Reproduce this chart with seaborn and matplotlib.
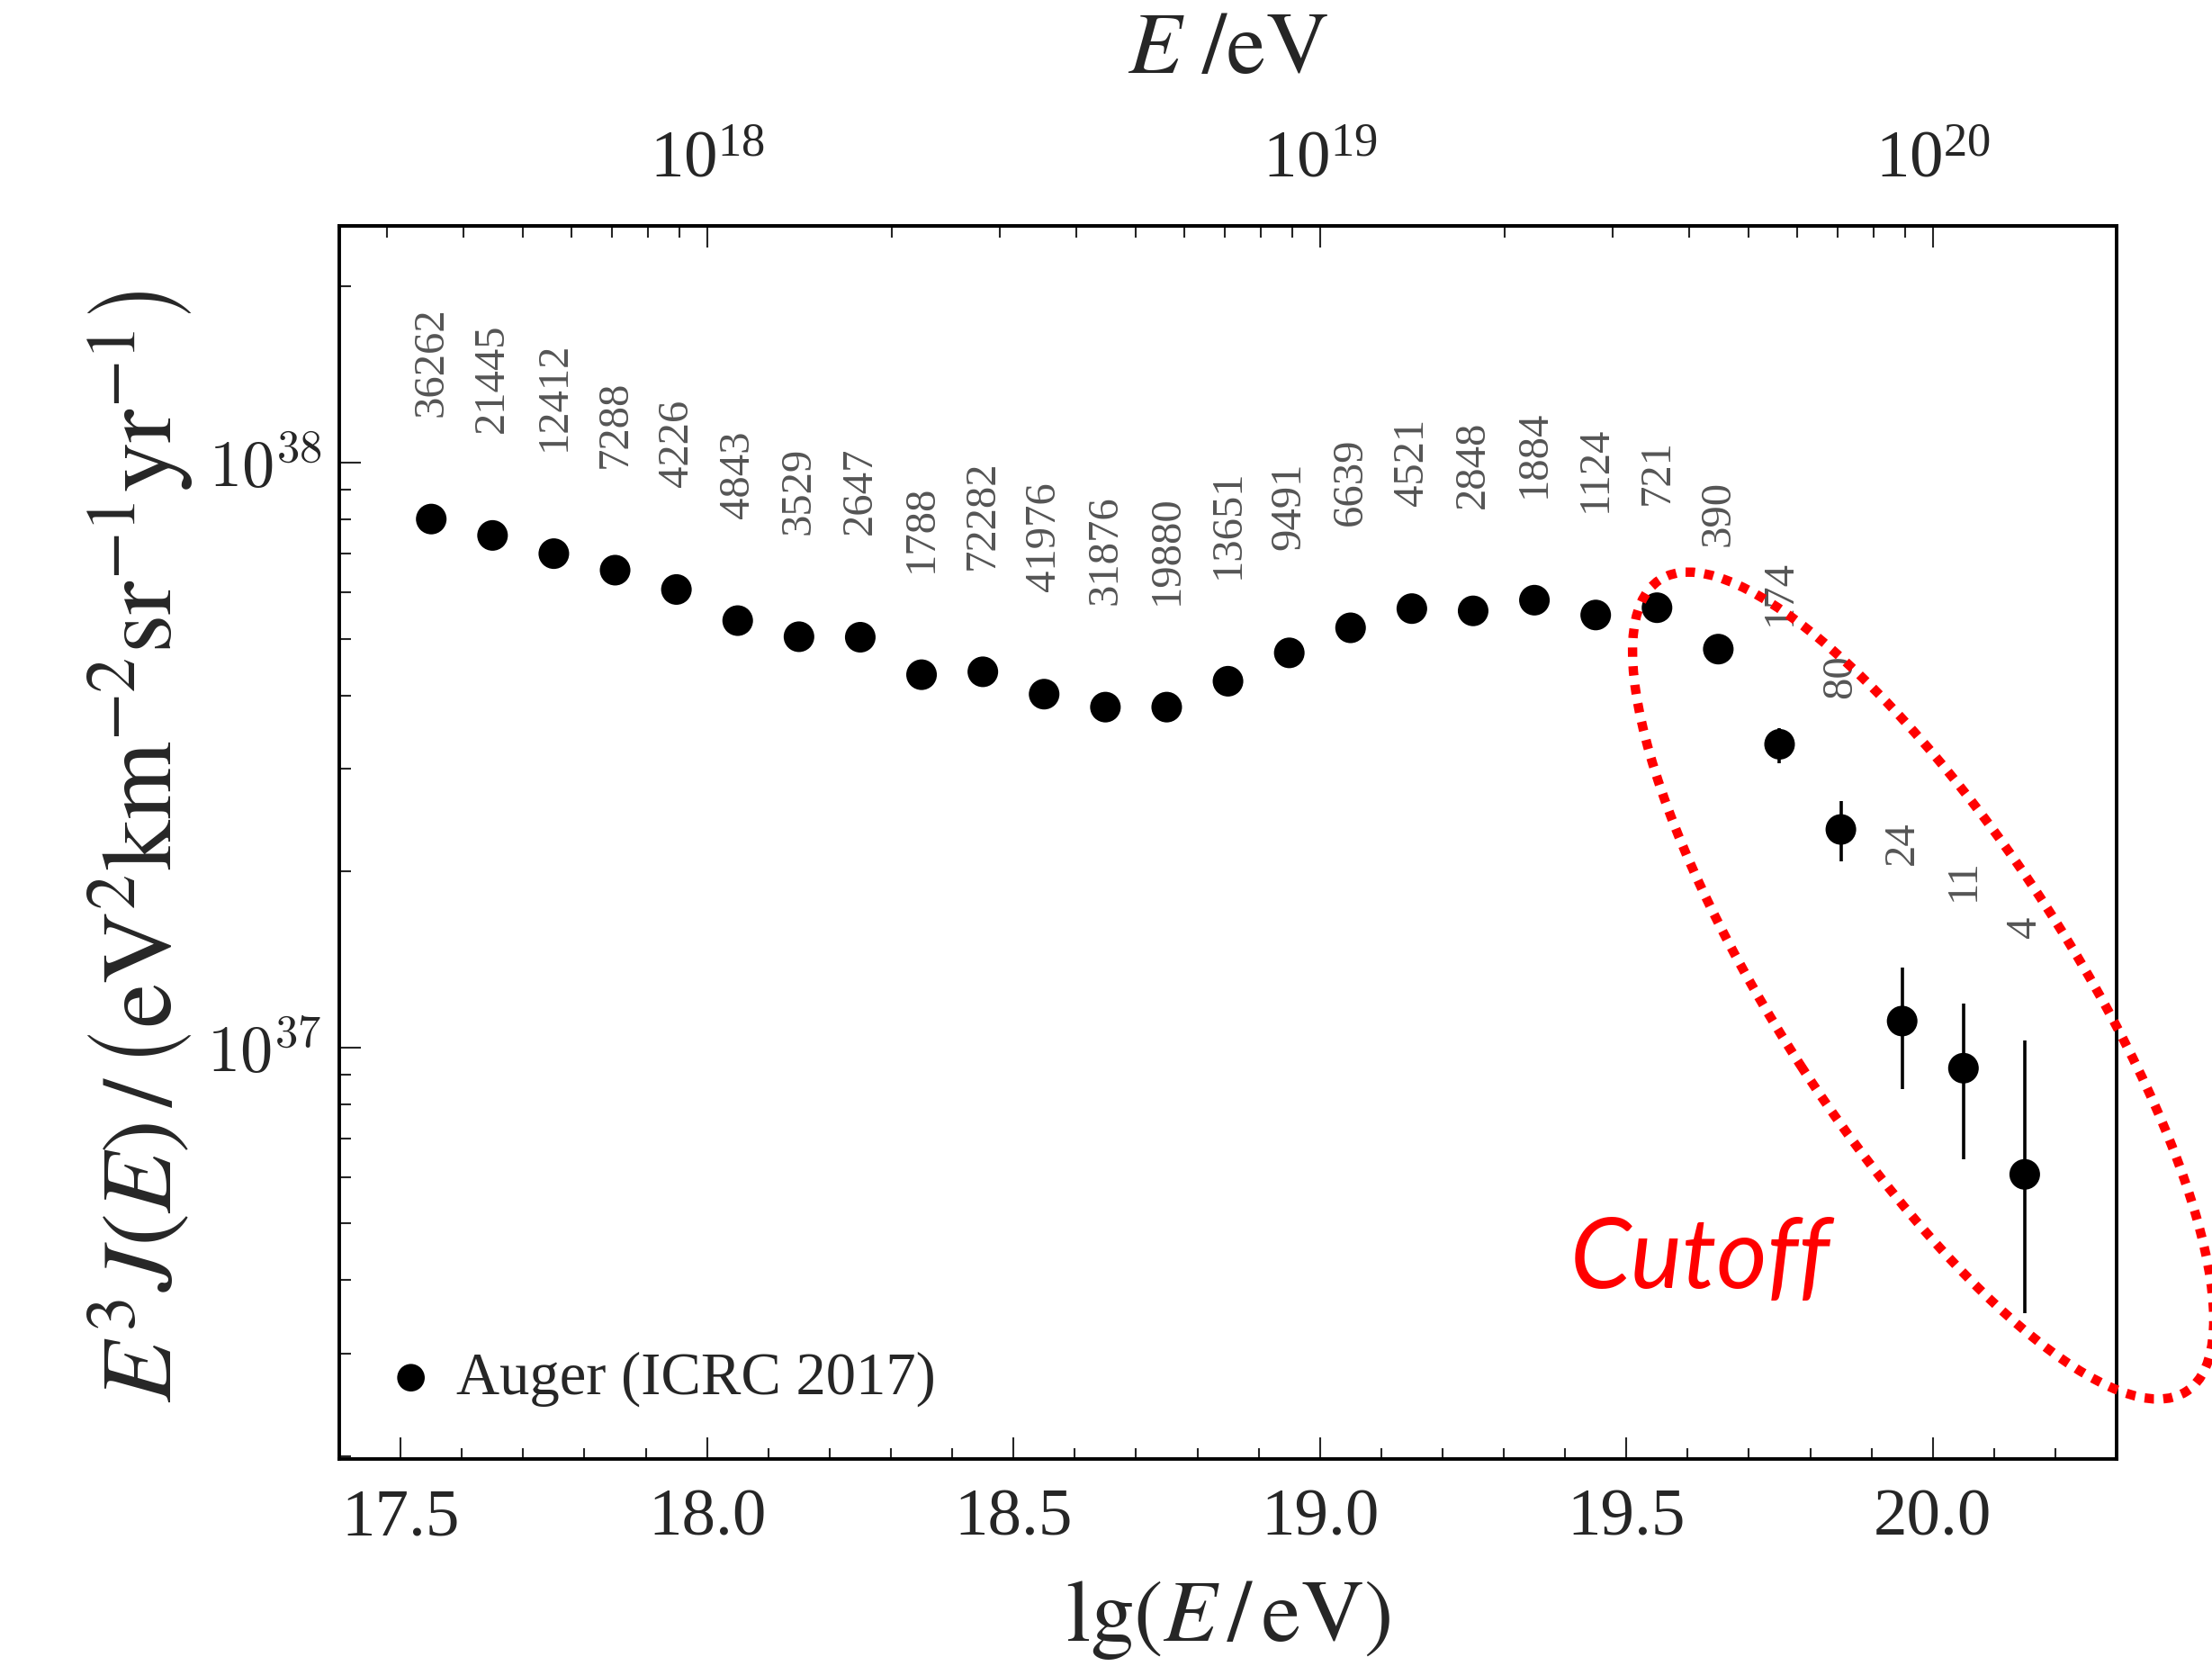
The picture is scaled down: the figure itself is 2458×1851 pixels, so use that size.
import numpy as np
import pandas as pd
import matplotlib
matplotlib.use('Agg')
import matplotlib.pyplot as plt
import seaborn as sns
from matplotlib.patches import Ellipse
from matplotlib.ticker import (LogLocator, LogFormatterSciNotation, NullFormatter,
                               MultipleLocator, FixedLocator)

# Auger (ICRC 2017) spectrum
lg_e = [17.55, 17.65, 17.75, 17.85, 17.95, 18.05, 18.15, 18.25, 18.35,
        18.45, 18.55, 18.65, 18.75, 18.85, 18.95, 19.05, 19.15, 19.25,
        19.35, 19.45, 19.55, 19.65, 19.75, 19.85, 19.95, 20.05, 20.15]
flux = [8.01e37, 7.51e37, 6.99e37, 6.55e37, 6.07e37, 5.37e37, 5.04e37, 5.03e37, 4.34e37,
        4.39e37, 4.02e37, 3.82e37, 3.82e37, 4.23e37, 4.73e37, 5.22e37, 5.63e37, 5.58e37,
        5.82e37, 5.49e37, 5.65e37, 4.80e37, 3.30e37, 2.36e37, 1.11e37, 9.22e36, 6.07e36]
# error bars (nan = hidden behind the marker)
flux_lo = [np.nan] * 22 + [3.06e37, 2.08e37, 8.50e36, 6.45e36, 3.52e36]
flux_hi = [np.nan] * 22 + [3.52e37, 2.64e37, 1.37e37, 1.19e37, 1.03e37]
counts = [36262, 21445, 12412, 7288, 4226, 4843, 3529, 2647, 1788,
          72282, 41976, 31876, 19880, 13651, 9491, 6639, 4521, 2848,
          1884, 1124, 721, 390, 174, 80, 24, 11, 4]

df = pd.DataFrame({'lgE': lg_e, 'flux': flux, 'lo': flux_lo, 'hi': flux_hi, 'n': counts})
df['lo'] = df['lo'].fillna(df['flux'])
df['hi'] = df['hi'].fillna(df['flux'])

sns.set_style('white')
plt.rcParams['font.family'] = ['Liberation Serif', 'DejaVu Serif']
plt.rcParams['mathtext.fontset'] = 'stix'

fig = plt.figure(figsize=(24.58, 18.51), dpi=100)
ax = fig.add_axes([0.1534, 0.1243, 0.9569 - 0.1534, 0.8644 - 0.1243])
ax.set_yscale('log')

# error bars first, markers on top
ax.errorbar(df['lgE'], df['flux'], yerr=[df['flux'] - df['lo'], df['hi'] - df['flux']],
            fmt='none', ecolor='black', elinewidth=2.6, capsize=0, zorder=2)
sns.scatterplot(data=df, x='lgE', y='flux', color='black', s=600, edgecolor='none',
                label='Auger (ICRC 2017)', ax=ax, zorder=3)

# number of events above each point
for x, top, n in zip(df['lgE'], df['hi'], df['n']):
    ax.annotate(str(n), xy=(x, top), xytext=(0, 82), textcoords='offset points',
                rotation=90, ha='center', va='bottom', fontsize=35, color='#555555')

xmin, xmax = 17.4, 20.3
ax.set_xlim(xmin, xmax)
ax.set_ylim(1.98e36, 2.54e38)

# bottom axis
ax.xaxis.set_major_locator(MultipleLocator(0.5))
ax.xaxis.set_minor_locator(MultipleLocator(0.1))
ax.xaxis.set_major_formatter(matplotlib.ticker.FormatStrFormatter('%.1f'))
ax.tick_params(axis='x', which='both', direction='in', bottom=True, top=False,
               labelsize=54, pad=24, width=1.5)
ax.tick_params(axis='x', which='major', length=17)
ax.tick_params(axis='x', which='minor', length=9)

# left axis
ax.set_yticks([1e37, 1e38])
ax.set_yticklabels([r'$10^{37}$', r'$10^{38}$'], math_fontfamily='cm', fontsize=52)
ax.yaxis.set_minor_locator(LogLocator(base=10, subs=np.arange(2, 10), numticks=50))
ax.yaxis.set_minor_formatter(NullFormatter())
ax.tick_params(axis='y', which='both', direction='in', left=True, right=False,
               pad=14, width=1.5)
ax.tick_params(axis='y', which='major', length=17)
ax.tick_params(axis='y', which='minor', length=9)

for sp in ax.spines.values():
    sp.set_linewidth(2.8)
    sp.set_color('black')

# top axis in E / eV, only ticks inside the visible range
e_lo, e_hi = 10 ** xmin, 10 ** xmax
top_major = 10.0 ** np.arange(18, 21)
top_minor = np.outer(10.0 ** np.arange(17, 21), np.arange(2, 10)).ravel()
top_minor = top_minor[(top_minor > e_lo) & (top_minor < e_hi)]
secax = ax.secondary_xaxis('top', functions=(lambda v: 10 ** v, np.log10))
secax.xaxis.set_major_locator(FixedLocator(top_major))
secax.xaxis.set_minor_locator(FixedLocator(top_minor))
secax.xaxis.set_major_formatter(LogFormatterSciNotation())
secax.xaxis.set_minor_formatter(NullFormatter())
secax.tick_params(which='both', direction='in', labelsize=54, pad=28, width=1.5)
secax.tick_params(which='major', length=17)
secax.tick_params(which='minor', length=9)
secax.spines['top'].set_linewidth(2.8)
ax.text(0.5, 1.141, r'$E\ /\mathrm{eV}$', transform=ax.transAxes,
        ha='center', va='center', fontsize=70)

ax.set_xlabel(r'$\mathrm{lg}\left(E\,/\,\mathrm{eV}\right)$', fontsize=70, va='center')
ax.xaxis.set_label_coords(0.5, -0.131)
ax.set_ylabel(r'$E^3J(E)\,/\,\left(\mathrm{eV}^2\mathrm{km}^{-2}\mathrm{sr}^{-1}\mathrm{yr}^{-1}\right)$',
              fontsize=80, va='center')
ax.yaxis.set_label_coords(-0.112, 0.497)

ax.legend(loc='center left', bbox_to_anchor=(0.0268, 0.065), frameon=False,
          borderpad=0, borderaxespad=0, handlelength=0.8, handletextpad=0.35,
          fontsize=48, markerscale=0.9)

# highlighted cutoff region
fig.add_artist(Ellipse((21.37, 7.56), 10.75, 3.25, angle=-57, transform=fig.dpi_scale_trans,
                       fill=False, edgecolor='red', linewidth=7.5, linestyle=(0, (1, 1)),
                       clip_on=False, zorder=5))
fig.text(1745 / 2458, 1 - 1431 / 1851, 'Cutoff', color='red', fontsize=78,
         family=['Lato', 'DejaVu Sans'], style='italic', ha='left', va='baseline')

fig.savefig('out.png', dpi=100)
